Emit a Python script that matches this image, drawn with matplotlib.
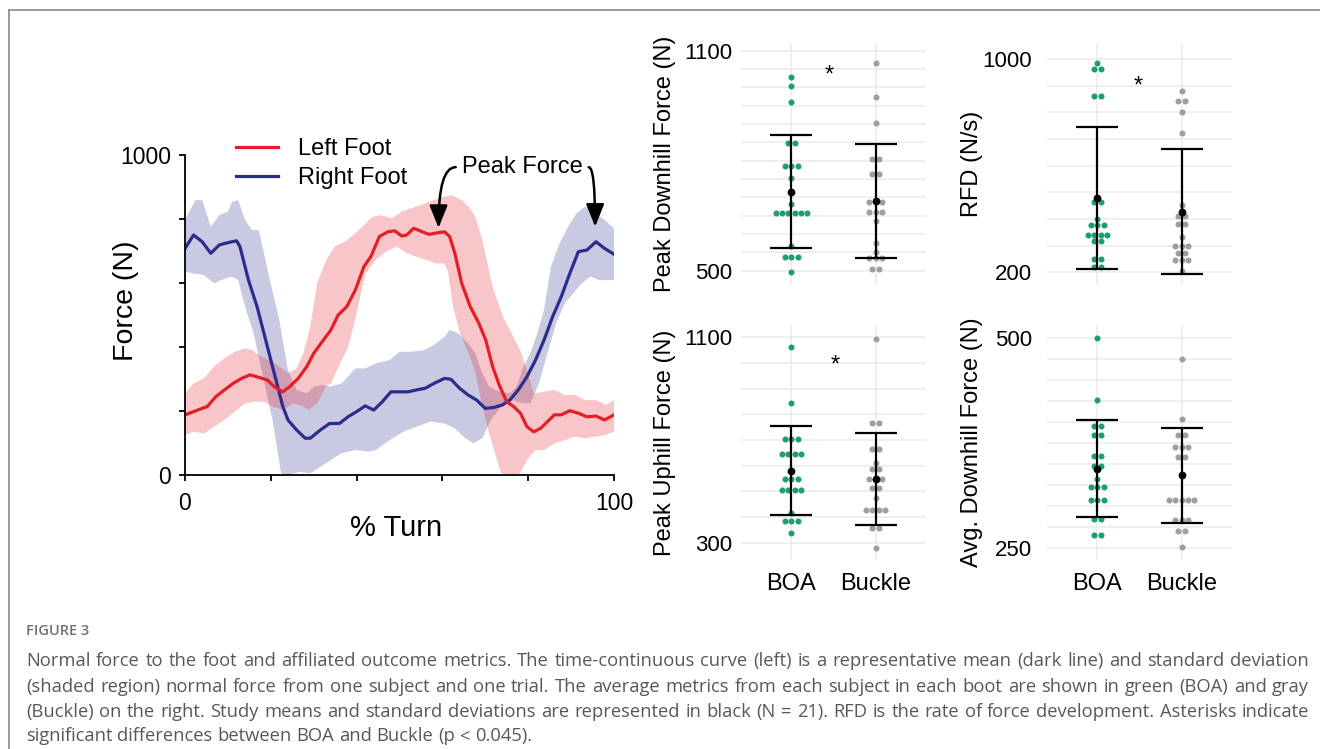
import numpy as np
import matplotlib
matplotlib.use("Agg")
import matplotlib.pyplot as plt
from matplotlib.ticker import MultipleLocator
from matplotlib.lines import Line2D

plt.rcParams['font.family'] = ['Liberation Sans', 'DejaVu Sans']

# ---- time-continuous normal force (one subject, one trial) ----
# right foot mean
right_x = [0, 2, 4, 6, 8, 10, 12, 12.8, 14.8, 16.8, 18.8, 20.8, 22.8, 24, 26, 28, 29.2, 31.6,
           33.7, 36, 38, 40, 42, 44, 46, 48, 50, 52, 54, 56, 58, 60.5, 62, 64, 66, 68, 70, 72,
           74, 75.7, 77.7, 79.7, 81.7, 83.7, 85.7, 87.7, 89.7, 91.7, 93.7, 95.8, 97.8, 100]
right_y = [708, 750, 729, 693, 719, 726, 732, 714, 609, 526, 422, 318, 214, 172, 141, 115, 115, 141,
           161, 161, 182, 198, 216, 203, 229, 260, 260, 260, 266, 271, 286, 302, 299, 271, 250, 234, 208, 211,
           219, 234, 266, 307, 359, 422, 495, 557, 630, 698, 703, 729, 708, 690]
# right foot +/- SD
right_up_x = [0, 2.4, 4, 6, 8, 10, 11, 12.4, 14, 15.6, 17.2, 19.6, 22, 24, 26, 28.4, 30, 32, 33.7, 36.5,
              39.7, 42, 44.5, 47.7, 50, 52.5, 55.7, 58, 60.5, 61.7, 63.7, 66, 67.7, 69.3, 70.9, 73.3,
              75.7, 77.3, 78.9, 80.5, 82.1, 83.7, 85.3, 87.3, 89.3, 91.3, 93.3, 95.8, 97.8, 100]
right_up_y = [797, 859, 859, 776, 812, 823, 854, 859, 797, 766, 766, 620, 484, 328, 266, 255, 276, 281, 276, 286,
              333, 333, 349, 359, 385, 385, 390, 406, 432, 453, 443, 411, 380, 318, 276, 260,
              255, 276, 339, 380, 443, 516, 651, 724, 776, 818, 839, 818, 797, 771]
right_lo_x = [0, 2, 4.4, 6.8, 8.4, 10.8, 12.4, 14, 16, 18, 20.4, 22.4, 24, 26.8, 29.2, 31.6, 34, 36.5, 39.7,
              42.9, 44.5, 47.7, 50.9, 54, 57.2, 60.5, 62.9, 65.3, 67.3, 69.3, 71.3, 73.7, 76.5, 78.5,
              80.5, 82.5, 84.5, 86.5, 88.5, 90.5, 92.5, 94.5, 96.5, 100]
right_lo_y = [635, 630, 625, 599, 609, 620, 609, 526, 443, 318, 172, 5, 0, 10, 5, 26, 47, 68, 78,
              73, 78, 109, 135, 151, 167, 161, 146, 115, 99, 115, 172, 214, 234, 224,
              224, 286, 380, 474, 536, 568, 599, 620, 609, 609]

# left foot mean
left_x = [0, 2, 5.2, 7.2, 9.2, 11.2, 13.2, 15.2, 17.2, 19.2, 20.8, 22.8, 24.4, 26.4, 28.4, 30, 32, 34,
          35.7, 37.7, 39.7, 41.7, 43.3, 45.3, 47.3, 48.9, 50.5, 51.7, 53.3, 55.3, 56.9, 58.9, 60.5,
          61.7, 62.9, 64.5, 66.5, 68.5, 70.1, 71.7, 73.4, 75, 76.6, 78.2, 79.7, 81.3, 82.9, 84.5,
          86.1, 87.7, 89.7, 91.7, 93.7, 95.8, 97.8, 100]
left_y = [188, 198, 214, 245, 266, 286, 302, 313, 305, 297, 276, 260, 276, 302, 339, 380, 417, 453,
          500, 526, 578, 651, 682, 745, 760, 763, 747, 750, 771, 760, 752, 757, 760,
          745, 693, 599, 526, 474, 422, 339, 276, 229, 214, 193, 151, 135, 146, 167,
          188, 188, 201, 193, 182, 184, 172, 188]
# left foot +/- SD
left_up_x = [0, 2, 4.4, 6.8, 9.2, 11.6, 14, 15.6, 17.2, 19.6, 22, 24, 26, 27.6, 29.2, 30.8, 32.9, 34.9,
             37.3, 39.7, 41.3, 43.7, 45.7, 48.1, 50.5, 52.5, 54, 56, 58, 60.5, 62.1, 64.5, 66.1, 67.7,
             69.3, 71.7, 74.1, 76.1, 78.1, 79.7, 81.3, 83.7, 86.1, 88.5, 90.9, 93.3, 95.8, 98.2, 100]
left_up_y = [255, 286, 302, 339, 365, 385, 396, 391, 375, 359, 339, 318, 333, 380, 464, 599, 672, 714,
             729, 755, 776, 807, 812, 802, 823, 833, 839, 849, 859, 870, 875, 859, 839, 807,
             734, 589, 495, 443, 391, 328, 255, 260, 266, 250, 250, 234, 234, 219, 234]
left_lo_x = [0, 2, 4.4, 6.8, 9.2, 11.6, 14, 16.4, 18.4, 20.4, 22.8, 25.2, 27.6, 28.8, 30.8, 32.9, 34,
             36.5, 38.1, 40, 42, 44.5, 46.9, 49.4, 51.7, 54, 56.4, 58.4, 60.5, 61.3, 62.5, 64.1, 66.1,
             67.7, 69.3, 70.9, 72.5, 73.7, 76.5, 78.1, 79.7, 81.7, 83.7, 86.1, 88.5, 90.9, 93.3,
             95.8, 97.8, 100]
left_lo_y = [125, 135, 130, 151, 172, 198, 224, 229, 229, 214, 203, 224, 214, 203, 224, 276, 286,
             359, 401, 505, 630, 672, 698, 714, 693, 682, 672, 661, 661, 635, 526, 443, 380,
             318, 214, 130, 57, 5, 0, 5, 47, 78, 78, 99, 109, 120, 115,
             120, 125, 135]

# peak force annotations (x in % turn, y in N)
peak_text_xy = (78.6, 962)
peak_left_tip = (59.1, 772)
peak_right_tip = (95.6, 776)

# ---- subject averages per boot (N = 21) ----
boots = ['BOA', 'Buckle']

boa_pdf = [1029, 1004, 959, 847, 847, 786, 786, 786, 754, 683, 657, 657, 657, 657, 657, 657,
           567, 537, 537, 537, 497]
buckle_pdf = [1067, 973, 904, 804, 804, 765, 765, 687, 687, 687, 659, 659, 659, 635, 576, 552,
              534, 534, 534, 504, 504]
pdf_mean = [716, 691]
pdf_sd = [155, 155]

boa_rfd = [987, 962, 962, 862, 862, 465, 465, 400, 378, 378, 378, 340, 340, 340, 340, 319, 319,
           249, 249, 219, 219]
buckle_rfd = [879, 844, 844, 800, 722, 453, 428, 412, 412, 382, 382, 334, 299, 299, 299, 274, 274,
              246, 246, 246, 206]
rfd_mean = [478, 428]
rfd_sd = [266, 235]

boa_puf = [1064, 843, 704, 704, 704, 645, 645, 645, 645, 547, 547, 547, 505, 505, 505, 505, 417,
           384, 384, 384, 340]
buckle_puf = [1092, 765, 765, 664, 664, 609, 586, 586, 548, 548, 548, 512, 512, 473, 427, 427, 427,
              427, 356, 356, 280]
puf_mean = [580, 548]
puf_sd = [173, 179]

boa_adf = [500, 427, 396, 396, 385, 385, 360, 360, 348, 348, 333, 323, 323, 323, 308, 308, 308,
           285, 285, 266, 266]
buckle_adf = [476, 404, 385, 385, 371, 371, 371, 359, 359, 336, 307, 307, 307, 307, 307, 284, 284,
              284, 271, 271, 251]
adf_mean = [345, 337]
adf_sd = [57.5, 56.6]

caption_lines = [
    "Normal force to the foot and affiliated outcome metrics. The time-continuous curve (left) is a representative mean (dark line) and standard deviation",
    "(shaded region) normal force from one subject and one trial. The average metrics from each subject in each boot are shown in green (BOA) and gray",
    "(Buckle) on the right. Study means and standard deviations are represented in black (N = 21). RFD is the rate of force development. Asterisks indicate",
    "significant differences between BOA and Buckle (p < 0.045).",
]

RED = '#e41e26'
BLUE = '#2b2d8e'
GREEN = '#1b9e77'
GRAY = '#9e9e9e'

W, H = 1320, 749
fig = plt.figure(figsize=(W / 100, H / 100), dpi=100)


def px_axes(l, t, r, b):
    return fig.add_axes([l / W, 1 - b / H, (r - l) / W, (b - t) / H])


# ---------------- left: force curve ----------------
ax = px_axes(185, 155, 614, 475)
ax.fill(right_up_x + right_lo_x[::-1], right_up_y + right_lo_y[::-1], color=BLUE, alpha=0.25, lw=0)
ax.fill(left_up_x + left_lo_x[::-1], left_up_y + left_lo_y[::-1], color=RED, alpha=0.25, lw=0)
ax.plot(right_x, right_y, color=BLUE, lw=2.3, label='Right Foot')
ax.plot(left_x, left_y, color=RED, lw=2.3, label='Left Foot')

ax.set_xlim(0, 100)
ax.set_ylim(0, 1000)
ax.set_xticks([0, 20, 40, 60, 80, 100])
ax.set_xticklabels(['0', '', '', '', '', '100'])
ax.set_yticks([0, 200, 400, 600, 800, 1000])
ax.set_yticklabels(['0', '', '', '', '', '1000'])
ax.tick_params(direction='out', length=4, width=1.3, labelsize=16.5)
ax.tick_params(axis='x', pad=8)
ax.tick_params(axis='y', pad=6)
for s in ['top', 'right']:
    ax.spines[s].set_visible(False)
for s in ['left', 'bottom']:
    ax.spines[s].set_linewidth(1.3)

ax.set_xlabel('% Turn', fontsize=21)
ax.xaxis.set_label_coords(0.492, -0.166)
ax.xaxis.label.set_va('center')
ax.set_ylabel('Force (N)', fontsize=20.5)
ax.yaxis.set_label_coords(-0.1375, 0.544)
ax.yaxis.label.set_va('center')

h, lab = ax.get_legend_handles_labels()
ax.legend(h[::-1], lab[::-1], loc='upper left', bbox_to_anchor=(0.119, 1.052), fontsize=17,
          frameon=False, handlelength=1.78, handletextpad=0.85, labelspacing=0.28,
          borderpad=0, borderaxespad=0)

ax.text(*peak_text_xy, 'Peak Force', fontsize=17, ha='center', va='center')
arrow = dict(arrowstyle='-|>,head_length=0.55,head_width=0.22', connectionstyle='angle3,angleA=0,angleB=90',
             lw=1.8, color='black', mutation_scale=25, shrinkA=0, shrinkB=0)
ax.annotate('', xy=peak_left_tip, xytext=(peak_text_xy[0] - 15.5, peak_text_xy[1]), arrowprops=arrow,
            annotation_clip=False)
ax.annotate('', xy=peak_right_tip, xytext=(peak_text_xy[0] + 15.5, peak_text_xy[1]), arrowprops=arrow,
            annotation_clip=False)


# ---------------- right: dot plots ----------------
def stack_offsets(vals, dx=0.074):
    vals = np.asarray(vals, float)
    off = np.zeros(len(vals))
    for v in np.unique(vals):
        idx = np.where(vals == v)[0]
        off[idx] = (np.arange(len(idx)) - (len(idx) - 1) / 2) * dx
    return off


def dot_panel(box, boa, buckle, means, sds, lo, hi, step, ylim, ylabel, label_x, tick_pad,
              star=None, show_x=False):
    a = px_axes(*box)
    for i, (vals, col) in enumerate([(boa, GREEN), (buckle, GRAY)]):
        a.scatter(i + 1 + stack_offsets(vals), vals, s=19, color=col, lw=0, zorder=2)
    a.errorbar([1, 2], means, yerr=sds, fmt='o', ms=4.6, color='black', ecolor='black',
               elinewidth=1.6, capsize=15, capthick=1.6, zorder=3)
    a.set_xlim(0.4, 2.6)
    a.set_ylim(*ylim)
    a.set_yticks([lo, hi])
    a.set_yticklabels([str(lo), str(hi)])
    a.yaxis.set_minor_locator(MultipleLocator(step))
    a.set_xticks([1, 2])
    a.set_xticklabels(boots if show_x else ['', ''])
    a.grid(True, which='both', color='#ebebeb', lw=1.1)
    a.set_axisbelow(True)
    for s in a.spines.values():
        s.set_visible(False)
    a.tick_params(which='both', length=0)
    a.tick_params(axis='y', labelsize=16, pad=tick_pad)
    a.tick_params(axis='x', labelsize=17, pad=9)
    a.set_ylabel(ylabel, fontsize=17)
    a.yaxis.set_label_coords(label_x, 0.5)
    a.yaxis.label.set_va('center')
    if star is not None:
        a.annotate('*', xy=star, xytext=(0, -9), textcoords='offset points', ha='center',
                   va='baseline', fontsize=17)
    return a


dot_panel((741, 43, 926, 285), boa_pdf, buckle_pdf, pdf_mean, pdf_sd, 500, 1100, 50, (461, 1121),
          'Peak Downhill Force (N)', -0.41, 6, star=(1.45, 1049))
dot_panel((1047, 43, 1232, 285), boa_rfd, buckle_rfd, rfd_mean, rfd_sd, 200, 1000, 100, (152, 1061),
          'RFD (N/s)', -0.405, 11, star=(1.49, 922))
dot_panel((741, 325, 926, 560), boa_puf, buckle_puf, puf_mean, puf_sd, 300, 1100, 100, (233, 1148),
          'Peak Uphill Force (N)', -0.41, 6, star=(1.52, 1014), show_x=True)
dot_panel((1047, 325, 1232, 560), boa_adf, buckle_adf, adf_mean, adf_sd, 250, 500, 25, (236, 516),
          'Avg. Downhill Force (N)', -0.405, 11, show_x=True)

# ---------------- frame and caption ----------------
fig.add_artist(Line2D([9 / W, 1], [1 - 10 / H, 1 - 10 / H], color='#8a8a8a', lw=1.2, transform=fig.transFigure))
fig.add_artist(Line2D([9 / W, 9 / W], [0, 1 - 10 / H], color='#8a8a8a', lw=1.2, transform=fig.transFigure))

fig.text(26 / W, 1 - 631 / H, 'FIGURE 3', fontsize=10.5, fontweight='semibold', color='#707070',
         family='Open Sans', va='center')

cap_left, cap_right = 26, 1309
cap_y = [661, 687, 712, 736]
cap_kw = dict(fontsize=13.2, color='#585858', family='Open Sans', va='center')
renderer = fig.canvas.get_renderer()
t1 = fig.text(0, 0, 'x x', **cap_kw)
t2 = fig.text(0, 0, 'xx', **cap_kw)
space_w = t1.get_window_extent(renderer).width - t2.get_window_extent(renderer).width
t1.remove()
t2.remove()
for i, line in enumerate(caption_lines):
    words = line.split(' ')
    texts = [fig.text(0, 1 - cap_y[i] / H, w, **cap_kw) for w in words]
    widths = [t.get_window_extent(renderer).width for t in texts]
    if i < len(caption_lines) - 1:
        gap = (cap_right - cap_left - sum(widths)) / (len(words) - 1)
    else:
        gap = space_w
    x = cap_left
    for t, w in zip(texts, widths):
        t.set_x(x / W)
        x += w + gap

fig.savefig('out.png', dpi=100)
